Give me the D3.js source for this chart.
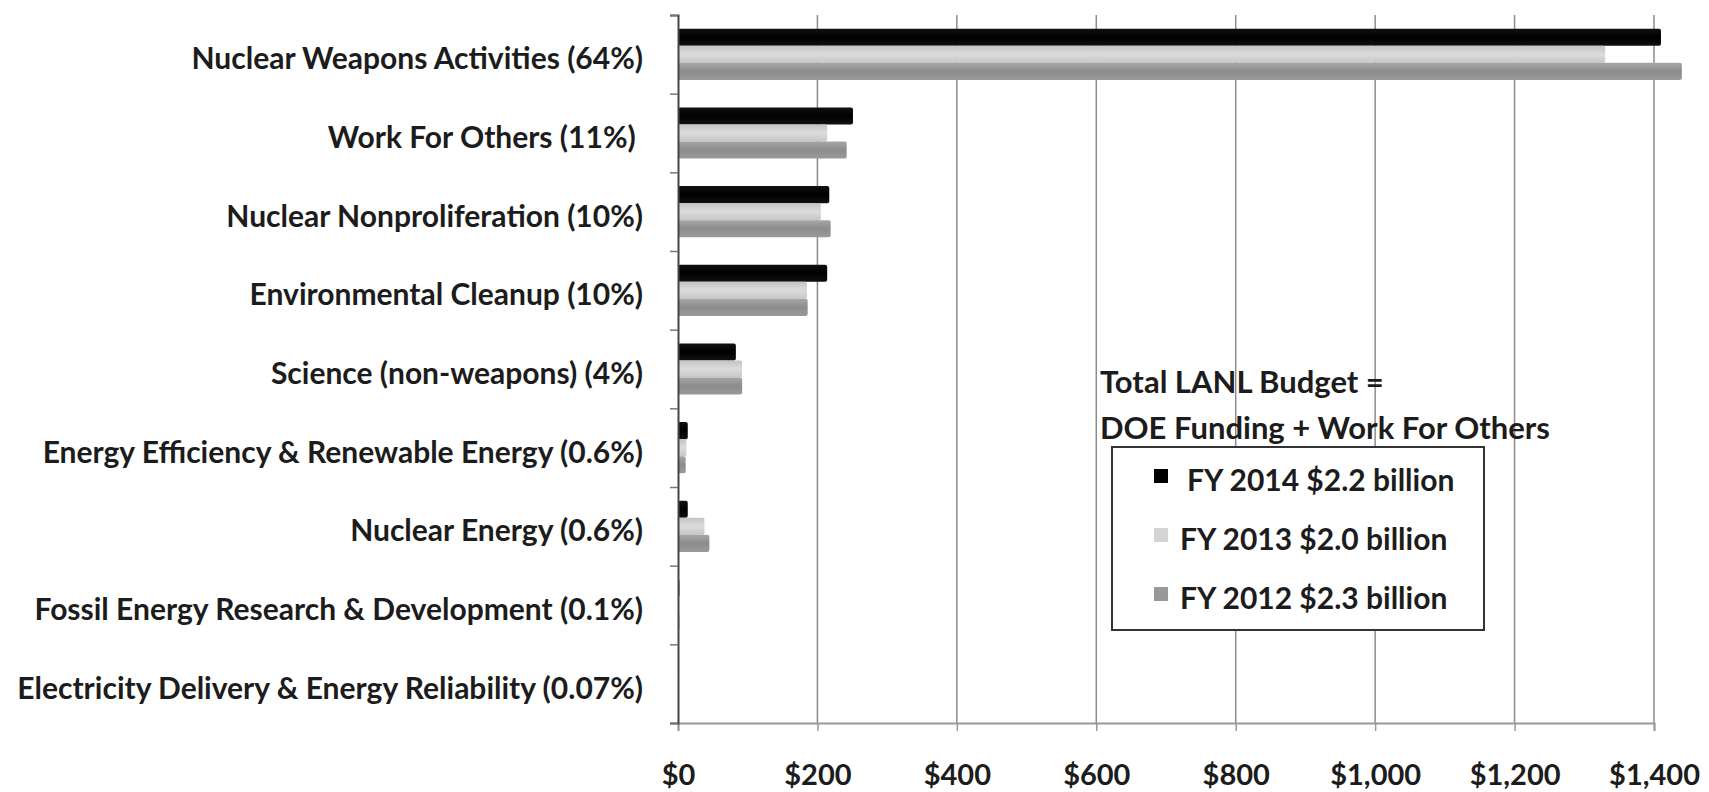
<!DOCTYPE html>
<html lang="en">
<head>
  <meta charset="UTF-8">
  <title>LANL Budget by Program</title>
  <script src="https://d3js.org/d3.v7.min.js"></script>
  <style>
    body { margin: 0; background: #fff; }
    svg { display: block; }
    svg text { font-family: Lato, "Open Sans", sans-serif; }
    .lbl text { font-size: 30px; font-weight: 700; fill: #1c1c1c; }
    .xaxis text { font-size: 29px; font-weight: 700; fill: #1c1c1c; }
  </style>
</head>
<body>
  <svg id="chart"></svg>

  <script>
    // program areas, top to bottom
    const categories = [
      "Nuclear Weapons Activities (64%)",
      "Work For Others (11%) ",
      "Nuclear Nonproliferation (10%)",
      "Environmental Cleanup (10%)",
      "Science (non-weapons) (4%)",
      "Energy Efficiency & Renewable Energy (0.6%)",
      "Nuclear Energy (0.6%)",
      "Fossil Energy Research & Development (0.1%)",
      "Electricity Delivery & Energy Reliability (0.07%)"
    ];

    // $ millions
    const fy2014 = [1410, 251, 217, 214, 83, 14, 14, 2, 1.5];
    const fy2013 = [1330, 214, 205, 185, 92, 12, 38, 1.5, 1];
    const fy2012 = [1440, 242, 219, 186, 92, 11, 45, 2, 1];

    const seriesKeys = ["fy2014", "fy2013", "fy2012"];
    const seriesNames = ["FY 2014 $2.2 billion", "FY 2013 $2.0 billion", "FY 2012 $2.3 billion"];
    const xTicks = [0, 200, 400, 600, 800, 1000, 1200, 1400];

    const legendTitle = ["Total LANL Budget =", "DOE Funding + Work For Others"];

    const width = 1709;
    const height = 792;
    const plot = { left: 678, right: 1654, top: 15, bottom: 723 };

    const rows = categories.map((c, i) => ({
      name: c,
      fy2014: fy2014[i],
      fy2013: fy2013[i],
      fy2012: fy2012[i]
    }));

    const svg = d3.select("#chart")
      .attr("width", width)
      .attr("height", height);

    svg.append("rect").attr("width", width).attr("height", height).attr("fill", "#fff");

    // shaded fills, a bit like the old excel cylinders
    const defs = svg.append("defs");
    const fills = {
      fy2014: ["#111", "#000", "#111"],
      fy2013: ["#c4c4c4", "#dcdcdc", "#c6c6c6"],
      fy2012: ["#a6a6a6", "#8c8c8c", "#9a9a9a"]
    };
    seriesKeys.forEach(k => {
      const g = defs.append("linearGradient")
        .attr("id", "grad-" + k)
        .attr("x1", 0).attr("y1", 0).attr("x2", 0).attr("y2", 1);
      g.append("stop").attr("offset", "0%").attr("stop-color", fills[k][0]);
      g.append("stop").attr("offset", "50%").attr("stop-color", fills[k][1]);
      g.append("stop").attr("offset", "100%").attr("stop-color", fills[k][2]);
    });
    const legendColor = { fy2014: "#000", fy2013: "#d4d4d4", fy2012: "#999" };

    const x = d3.scaleLinear()
      .domain([0, 1400])
      .range([plot.left, plot.right]);

    const y = d3.scaleBand()
      .domain(categories)
      .range([plot.top, plot.bottom])
      .paddingInner(0.35)
      .paddingOuter(0.175);

    const ySub = d3.scaleBand()
      .domain(seriesKeys)
      .range([0, y.bandwidth()]);

    // row boundaries for the left ticks
    const yIdx = d3.scaleLinear()
      .domain([0, categories.length])
      .range([plot.top, plot.bottom]);

    // gridlines
    svg.append("g")
      .selectAll("line")
      .data(xTicks.filter(d => d > 0))
      .enter()
      .append("line")
      .attr("x1", d => x(d))
      .attr("x2", d => x(d))
      .attr("y1", plot.top)
      .attr("y2", plot.bottom)
      .attr("stroke", "#8c8c8c")
      .attr("stroke-width", 1.5);

    // x axis
    const xAxis = svg.append("g")
      .attr("class", "xaxis")
      .attr("transform", `translate(0,${plot.bottom})`)
      .call(d3.axisBottom(x)
        .tickValues(xTicks)
        .tickSize(8)
        .tickPadding(33)
        .tickFormat(d => "$" + d3.format(",")(d)));
    xAxis.attr("font-family", null);
    xAxis.select(".domain").attr("stroke", "#999").attr("stroke-width", 2);
    xAxis.selectAll(".tick line").attr("stroke", "#999").attr("stroke-width", 1.5);

    // bars
    const groups = svg.append("g")
      .selectAll("g")
      .data(rows)
      .enter()
      .append("g")
      .attr("transform", d => `translate(0,${y(d.name)})`);

    groups.selectAll("rect")
      .data(d => seriesKeys.map(k => ({ key: k, value: d[k] })))
      .enter()
      .append("rect")
      .attr("x", x(0))
      .attr("y", d => ySub(d.key))
      .attr("width", d => x(d.value) - x(0))
      .attr("height", ySub.bandwidth())
      .attr("rx", 2)
      .attr("fill", d => `url(#grad-${d.key})`);

    // y axis line + boundary ticks
    const yAxis = svg.append("g")
      .attr("transform", `translate(${plot.left},0)`)
      .call(d3.axisLeft(yIdx)
        .tickValues(d3.range(categories.length + 1))
        .tickSize(8)
        .tickFormat(""));
    yAxis.select(".domain").attr("stroke", "#444").attr("stroke-width", 2);
    yAxis.selectAll(".tick line").attr("stroke", "#777").attr("stroke-width", 1.5);

    // category labels
    const yLabels = svg.append("g")
      .attr("class", "lbl")
      .attr("transform", `translate(${plot.left},0)`)
      .call(d3.axisLeft(y).tickSize(0).tickPadding(35));
    yLabels.attr("font-family", null);
    yLabels.select(".domain").remove();
    yLabels.selectAll("text").attr("dy", "0.5em").style("white-space", "pre");

    // legend title
    svg.append("g")
      .selectAll("text")
      .data(legendTitle)
      .enter()
      .append("text")
      .attr("x", 1100)
      .attr("y", (d, i) => 393 + i * 46)
      .attr("font-size", 31)
      .attr("font-weight", 700)
      .attr("fill", "#1c1c1c")
      .text(d => d);

    // legend box
    const legend = svg.append("g").attr("transform", "translate(1112,447)");
    legend.append("rect")
      .attr("width", 372)
      .attr("height", 183)
      .attr("fill", "#fff")
      .attr("stroke", "#333")
      .attr("stroke-width", 2);

    const items = legend.selectAll("g")
      .data(seriesKeys)
      .enter()
      .append("g")
      .attr("transform", (d, i) => `translate(0,${35 + i * 59})`);

    items.append("rect")
      .attr("x", 42)
      .attr("y", -13)
      .attr("width", 14)
      .attr("height", 14)
      .attr("fill", d => legendColor[d]);

    items.append("text")
      .attr("x", (d, i) => i === 0 ? 75 : 68)
      .attr("y", 9)
      .attr("font-size", 30)
      .attr("font-weight", 700)
      .attr("fill", "#1c1c1c")
      .text((d, i) => seriesNames[i]);
  </script>
</body>
</html>
